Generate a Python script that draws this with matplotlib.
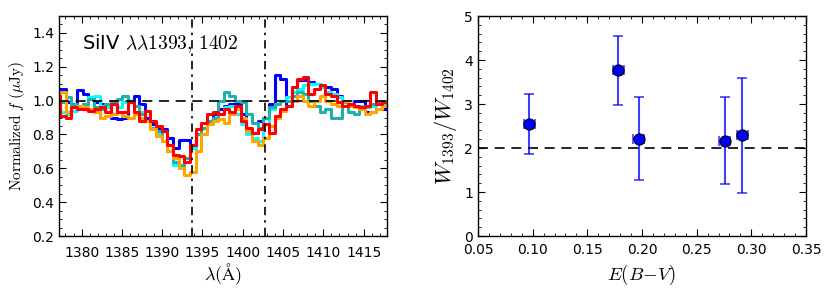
import matplotlib
matplotlib.use("Agg")
import matplotlib.pyplot as plt
import numpy as np
from matplotlib.ticker import MultipleLocator

plt.rcParams['mathtext.fontset'] = 'cm'
plt.rcParams['font.family'] = 'DejaVu Sans'

# stacked SiIV spectra, 0.7 A bins starting at 1377 A
wave = 1377.0 + 0.7 * np.arange(59)
blue = [1.07, 1.07, 0.99, 0.98, 1.06, 1.04, 1.02, 0.99, 0.98, 0.96, 0.90, 0.89, 0.90, 1.00, 1.03,
        0.98, 0.90, 0.86, 0.84, 0.83, 0.78, 0.72, 0.77, 0.77, 0.72, 0.80, 0.84, 0.88, 0.92, 0.95,
        0.97, 0.98, 0.98, 0.92, 0.83, 0.81, 0.88, 0.90, 0.98, 1.15, 1.13, 0.97, 1.00, 1.12, 1.12,
        1.11, 1.10, 1.08, 1.08, 1.07, 1.03, 1.00, 0.98, 1.00, 1.00, 0.93, 0.93, 0.95, 0.95]
cyan = [0.93, 0.93, 0.92, 0.94, 0.96, 0.98, 1.02, 1.03, 0.97, 0.96, 0.98, 0.96, 0.99, 1.00, 0.97,
        0.93, 0.88, 0.84, 0.80, 0.76, 0.70, 0.62, 0.60, 0.66, 0.72, 0.80, 0.84, 0.87, 0.90, 0.92,
        0.96, 0.97, 0.92, 0.86, 0.80, 0.78, 0.76, 0.86, 0.95, 0.98, 1.00, 1.02, 1.05, 1.07, 1.09,
        1.10, 1.10, 1.08, 1.05, 1.04, 1.02, 1.00, 0.98, 0.97, 0.97, 0.96, 0.97, 0.98, 0.98]
teal = [0.92, 0.99, 1.02, 0.98, 0.96, 0.98, 1.01, 0.96, 0.95, 0.98, 1.00, 1.01, 1.03, 1.00, 0.97,
        0.92, 0.88, 0.84, 0.82, 0.76, 0.70, 0.64, 0.62, 0.66, 0.74, 0.80, 0.84, 0.88, 0.90, 1.00,
        1.05, 1.03, 1.00, 0.99, 0.92, 0.87, 0.84, 0.90, 0.96, 0.98, 1.00, 1.00, 1.03, 1.05, 1.04,
        1.00, 0.97, 0.93, 0.95, 0.90, 0.90, 0.99, 0.93, 0.92, 0.95, 0.97, 0.98, 0.99, 1.00]
orange = [0.98, 1.05, 0.93, 0.96, 0.97, 0.96, 0.95, 0.93, 0.90, 0.91, 0.92, 0.93, 0.91, 0.90, 0.92,
          0.90, 0.88, 0.83, 0.79, 0.76, 0.70, 0.66, 0.60, 0.56, 0.58, 0.70, 0.80, 0.86, 0.88, 0.89,
          0.87, 0.92, 0.95, 0.90, 0.82, 0.76, 0.74, 0.78, 0.85, 0.90, 0.94, 0.97, 1.00, 1.03, 1.00,
          0.97, 1.00, 1.03, 1.00, 0.98, 0.97, 1.00, 0.97, 0.96, 0.95, 0.92, 0.93, 0.95, 0.97]
red = [1.03, 0.91, 0.90, 0.96, 0.95, 0.95, 0.94, 0.95, 0.96, 0.93, 0.98, 0.93, 0.93, 0.99, 0.93,
       0.88, 0.94, 0.88, 0.85, 0.82, 0.74, 0.68, 0.67, 0.64, 0.74, 0.83, 0.87, 0.92, 0.93, 0.92,
       0.95, 0.93, 0.97, 0.88, 0.84, 0.81, 0.83, 0.86, 0.81, 0.91, 0.95, 0.97, 1.08, 1.13, 1.14,
       1.04, 1.07, 1.09, 1.04, 1.03, 0.99, 0.97, 0.98, 0.97, 0.96, 0.97, 1.05, 0.98, 0.99]
spectra = [(blue, 'blue'), (cyan, 'cyan'), (teal, 'lightseagreen'), (orange, 'orange'), (red, 'red')]
lines = [1393.76, 1402.77]

# ratio vs reddening
ebv = [0.097, 0.1785, 0.197, 0.2755, 0.2915]
ratio = [2.55, 3.77, 2.21, 2.17, 2.29]
err_lo = [0.69, 0.79, 0.94, 0.98, 1.31]
err_hi = [0.67, 0.78, 0.95, 0.99, 1.29]
ebv_err = [0.005, 0.005, 0.005, 0.005, 0.005]

fig = plt.figure(figsize=(8.31, 2.93), dpi=100)
ax1 = fig.add_axes([59 / 831, 57 / 293, 328 / 831, 220 / 293])
ax2 = fig.add_axes([478 / 831, 57 / 293, 328 / 831, 220 / 293])

for flux, c in spectra:
    ax1.step(wave, flux, where='mid', color=c, lw=2.2)
ax1.axhline(1.0, color='k', ls='--', lw=1.2, dashes=(6, 4))
for l in lines:
    ax1.axvline(l, color='k', lw=1.2, dashes=(5, 3, 1.5, 3))
ax1.text(1380.1, 1.34, r'SiIV $\lambda\lambda1393,\, 1402$', fontsize=14, va='center')
ax1.set_xlim(1377.2, 1417.9)
ax1.set_ylim(0.2, 1.5)
ax1.set_yticks([0.2, 0.4, 0.6, 0.8, 1.0, 1.2, 1.4])
ax1.xaxis.set_major_locator(MultipleLocator(5))
ax1.xaxis.set_minor_locator(MultipleLocator(1))
ax1.yaxis.set_minor_locator(MultipleLocator(0.05))
ax1.set_xlabel(r'$\lambda(\mathrm{\AA})$', fontsize=13, labelpad=1)
ax1.set_ylabel(r'$\mathrm{Normalized}\ f\ (\mu\mathrm{Jy})$', fontsize=11)

ax2.errorbar(ebv, ratio, yerr=[err_lo, err_hi], xerr=ebv_err, fmt='none',
             ecolor='blue', alpha=0.75, elinewidth=1.5, capsize=3.5, capthick=1.2)
ax2.plot(ebv, ratio, 'o', color='blue', mec='k', mew=0.8, ms=8)
ax2.axhline(2.0, color='k', ls='--', lw=1.2, dashes=(6, 4))
ax2.set_xlim(0.05, 0.35)
ax2.set_ylim(0, 5)
ax2.xaxis.set_major_locator(MultipleLocator(0.05))
ax2.xaxis.set_minor_locator(MultipleLocator(0.01))
ax2.yaxis.set_minor_locator(MultipleLocator(0.2))
ax2.set_xticks(np.arange(0.05, 0.351, 0.05))
ax2.set_xticklabels(['%.2f' % v for v in np.arange(0.05, 0.351, 0.05)])
ax2.set_xlabel(r'$E(B\!-\!V)$', fontsize=13.5)
ax2.set_ylabel(r'$W_{1393}/W_{1402}$', fontsize=16)

for ax in (ax1, ax2):
    ax.tick_params(which='both', direction='in', top=True, right=True, labelsize=10)
    ax.tick_params(which='major', length=5)
    ax.tick_params(which='minor', length=2.5)
    for s in ax.spines.values():
        s.set_linewidth(1.0)
ax1.tick_params(axis='x', which='major', pad=7)
ax2.tick_params(axis='x', which='major', pad=5)

fig.savefig('out.png', dpi=100)
